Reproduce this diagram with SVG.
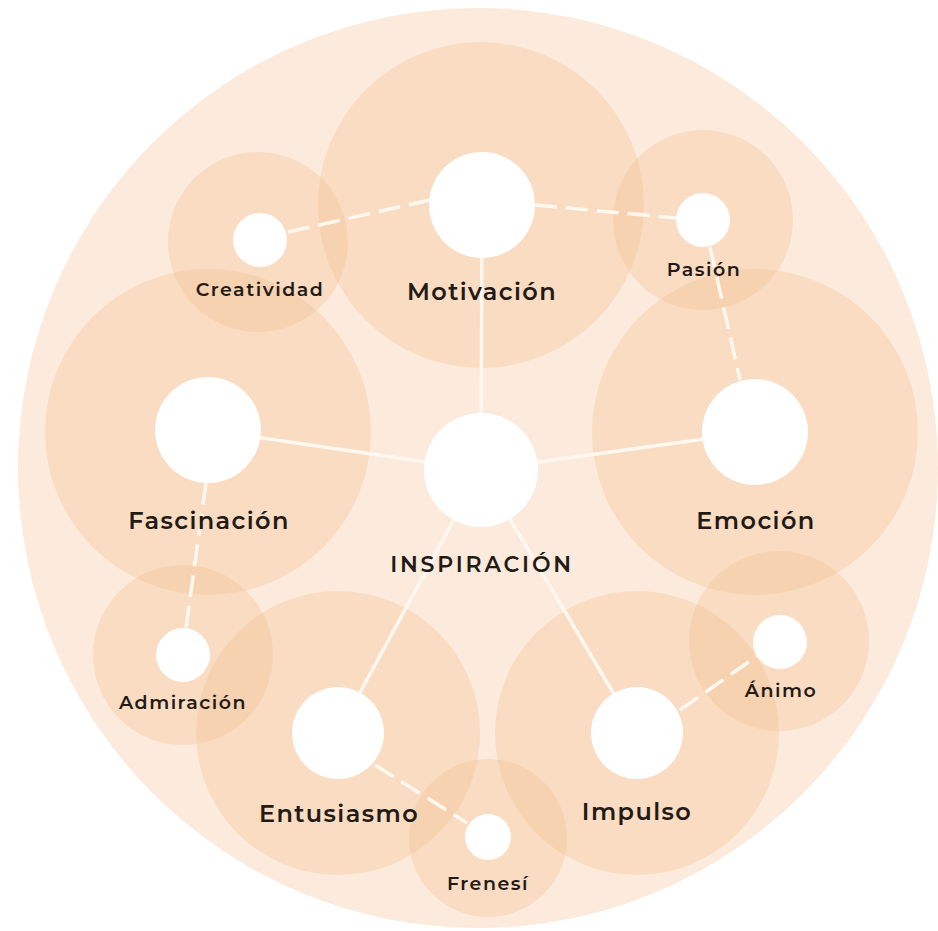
<svg xmlns="http://www.w3.org/2000/svg" width="938" height="931" viewBox="0 0 938 931">
<style>
.halo{fill:#F3C193;fill-opacity:0.36}
.dot{fill:#FFFFFF}
.solid{stroke:#FFF8F0;stroke-width:3.5;fill:none}
.dash{stroke:#FFF8F0;stroke-width:3.5;fill:none;stroke-dasharray:22 9}
text{font-family:"Montserrat","Inter","DejaVu Sans",sans-serif;font-weight:600;fill:#231A16;text-anchor:middle}
.big{font-size:24px;letter-spacing:1.4px}
.mid{font-size:22px;letter-spacing:2.8px}
.sm{font-size:19px;letter-spacing:1.5px}
</style>
<rect width="938" height="931" fill="#FFFFFF"/>
<circle cx="478" cy="468" r="460" fill="#FCEBDD"/>
<g id="halos">
<circle class="halo" cx="481" cy="205" r="163"/>
<circle class="halo" cx="258" cy="242" r="90"/>
<circle class="halo" cx="703" cy="220" r="90"/>
<circle class="halo" cx="208" cy="432" r="163"/>
<circle class="halo" cx="755" cy="432" r="163"/>
<circle class="halo" cx="183" cy="655" r="90"/>
<circle class="halo" cx="338" cy="733" r="142"/>
<circle class="halo" cx="488" cy="838" r="79"/>
<circle class="halo" cx="637" cy="733" r="142"/>
<circle class="halo" cx="779" cy="641" r="90"/>
</g>
<g id="connectors">
<line class="solid" x1="482" y1="205" x2="481" y2="470"/>
<line class="solid" x1="208" y1="430" x2="481" y2="470"/>
<line class="solid" x1="755" y1="432" x2="481" y2="470"/>
<line class="solid" x1="338" y1="733" x2="481" y2="470"/>
<line class="solid" x1="637" y1="733" x2="481" y2="470"/>
<line class="dash" x1="288" y1="232" x2="430" y2="200"/>
<line class="dash" x1="535" y1="205" x2="676" y2="218"/>
<line class="dash" x1="710" y1="247" x2="740" y2="380"/>
<line class="dash" x1="206" y1="483" x2="186" y2="628"/>
<line class="dash" x1="375" y1="765" x2="467" y2="823"/>
<line class="dash" x1="680" y1="710" x2="757" y2="656"/>
</g>
<g id="node-inspiracion"><circle class="dot" cx="481" cy="470" r="57"/><text class="mid" x="482" y="572">INSPIRACIÓN</text></g>
<g id="node-motivacion"><circle class="dot" cx="482" cy="205" r="53"/><text class="big" x="482" y="300">Motivación</text></g>
<g id="node-creatividad"><circle class="dot" cx="260" cy="240" r="27"/><text class="sm" x="260" y="296">Creatividad</text></g>
<g id="node-pasion"><circle class="dot" cx="703" cy="220" r="27"/><text class="sm" x="704" y="276">Pasión</text></g>
<g id="node-fascinacion"><circle class="dot" cx="208" cy="430" r="53"/><text class="big" x="209" y="529">Fascinación</text></g>
<g id="node-emocion"><circle class="dot" cx="755" cy="432" r="53"/><text class="big" x="756" y="529">Emoción</text></g>
<g id="node-admiracion"><circle class="dot" cx="183" cy="655" r="27"/><text class="sm" x="183" y="709">Admiración</text></g>
<g id="node-entusiasmo"><circle class="dot" cx="338" cy="733" r="46"/><text class="big" x="339" y="822">Entusiasmo</text></g>
<g id="node-impulso"><circle class="dot" cx="637" cy="733" r="46"/><text class="big" x="637" y="820">Impulso</text></g>
<g id="node-frenesi"><circle class="dot" cx="488" cy="837" r="23"/><text class="sm" x="488" y="890">Frenesí</text></g>
<g id="node-animo"><circle class="dot" cx="780" cy="642" r="27"/><text class="sm" x="781" y="697">Ánimo</text></g>
</svg>
